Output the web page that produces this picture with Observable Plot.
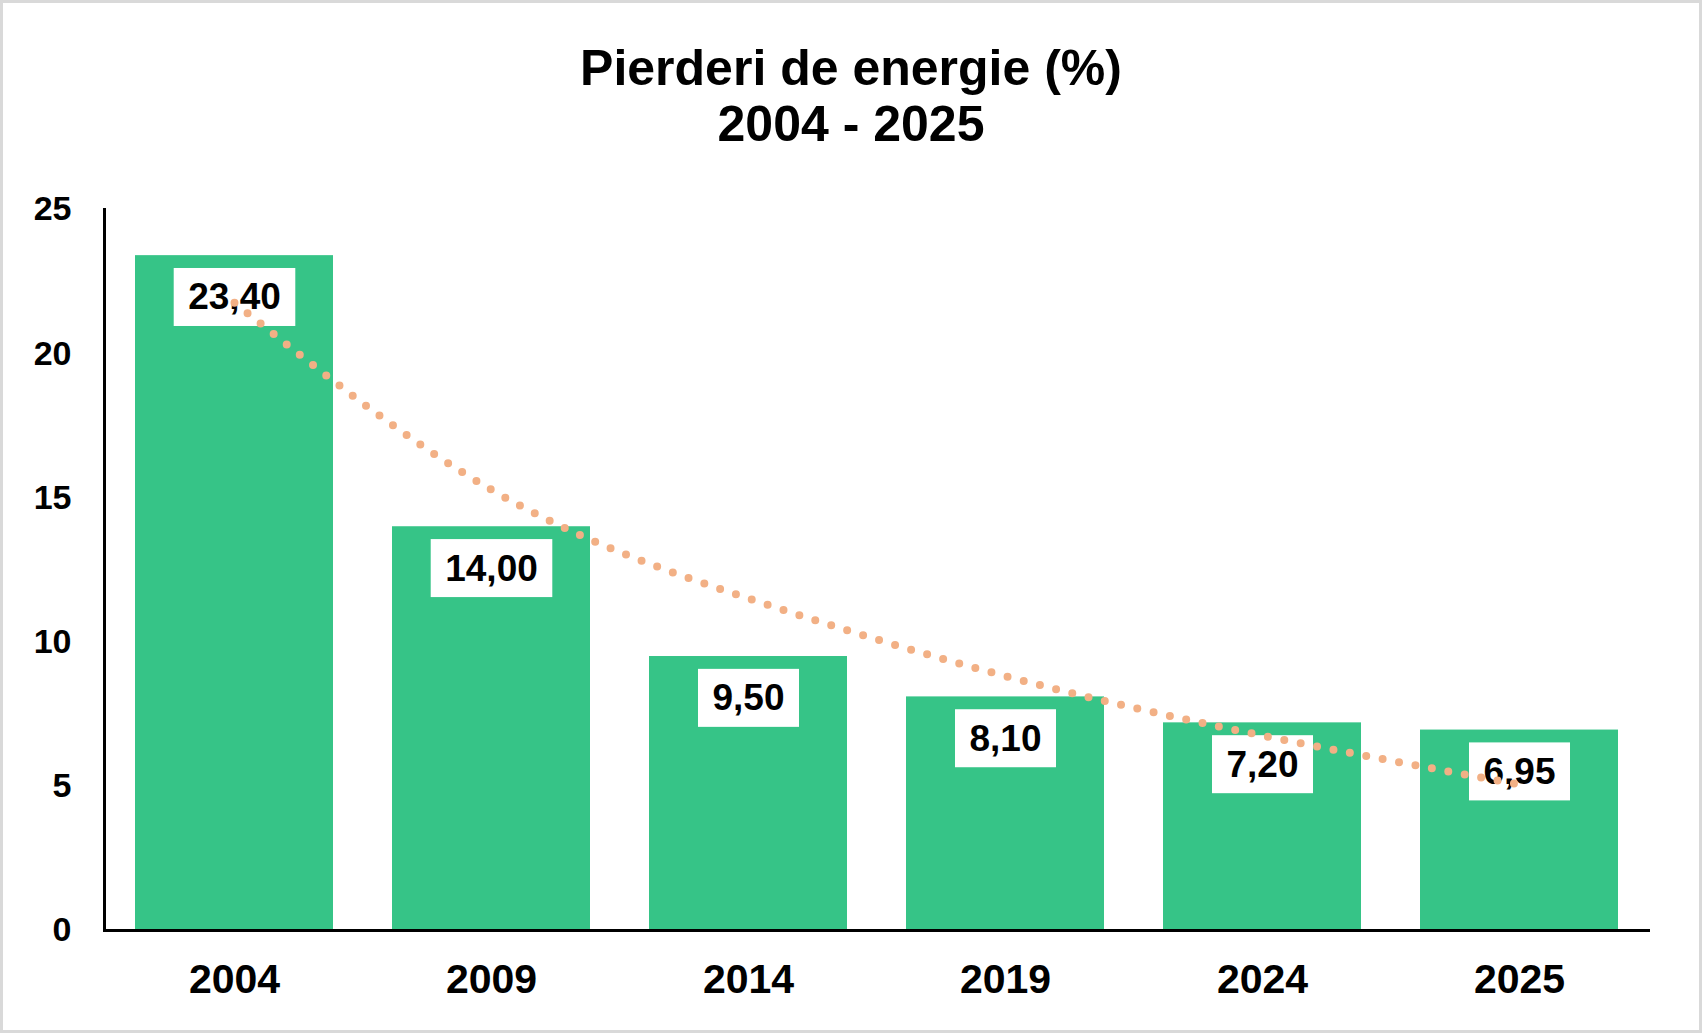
<!DOCTYPE html>
<html>
<head>
<meta charset="utf-8">
<script src="https://cdn.jsdelivr.net/npm/d3@7"></script>
<script src="https://cdn.jsdelivr.net/npm/@observablehq/plot@0.6"></script>
<style>
  html, body { margin: 0; padding: 0; background: #fff; overflow: hidden; }
  #chart { position: relative; width: 1702px; height: 1033px; background: #fff; font-family: "Liberation Sans", Arial, sans-serif; }
  #title { height: 160px; box-sizing: border-box; padding-top: 40px; text-align: center; font-weight: bold; font-size: 50px; line-height: 56px; color: #000; }
  #border { position: absolute; left: 0; top: 0; right: 0; bottom: 0; border: 3px solid #d9d9d9; pointer-events: none; }
</style>
</head>
<body>
<div id="chart">
  <div id="title"></div>
  <div id="plot"></div>
  <div id="border"></div>
</div>
<script>
const titleLines = ["Pierderi de energie (%)", "2004 - 2025"];
const years = ["2004", "2009", "2014", "2019", "2024", "2025"];
const losses = [23.4, 14.0, 9.5, 8.1, 7.2, 6.95];
const trendValues = [21.77, 15.28, 11.51, 8.82, 6.76, 5.06];
const yTicks = [0, 5, 10, 15, 20, 25];

const barColor = "#36C487";
const trendColor = "#F2B085";

document.getElementById("title").innerHTML = titleLines.join("<br>");

const data = years.map((year, i) => ({ year, value: losses[i], trend: trendValues[i] }));
const fmt = v => v.toFixed(2).replace(".", ",");

const chart = Plot.plot({
  width: 1702,
  height: 873,
  marginTop: 49,
  marginBottom: 103,
  marginLeft: 104,
  marginRight: 54,
  style: { fontFamily: "'Liberation Sans', Arial, sans-serif", fontWeight: "bold", color: "#000", background: "transparent", overflow: "visible" },
  x: { domain: years, paddingInner: 0.23, paddingOuter: 0.115, axis: null },
  y: { domain: [0, 25], axis: null },
  marks: [
    Plot.barY(data, { x: "year", y: "value", fill: barColor }),
    Plot.frame({ anchor: "left", stroke: "#000", strokeWidth: 3 }),
    Plot.frame({ anchor: "bottom", stroke: "#000", strokeWidth: 3 }),
    Plot.axisY({ ticks: yTicks, tickSize: 0, tickPadding: 33, fontSize: 34, fontWeight: "bold", label: null, tickFormat: d => String(d) }),
    Plot.axisX({ tickSize: 0, tickPadding: 33, fontSize: 41, fontWeight: "bold", label: null }),
    Plot.text(data, { x: "year", y: "value", text: d => fmt(d.value), dy: 42, fontSize: 37, fontWeight: "bold", fill: "#000" }),
    Plot.line(data, { x: "year", y: "trend", curve: "natural", stroke: trendColor, strokeWidth: 8, strokeDasharray: "0 16.7", strokeLinecap: "round" })
  ]
});

document.getElementById("plot").appendChild(chart);

// white boxes behind the value labels
const labelGroup = chart.querySelector('g[aria-label="text"]');
if (labelGroup) {
  labelGroup.querySelectorAll("text").forEach(t => {
    const bb = t.getBBox();
    const cy = bb.y + bb.height / 2;
    const r = document.createElementNS("http://www.w3.org/2000/svg", "rect");
    r.setAttribute("x", bb.x - 14.5);
    r.setAttribute("width", bb.width + 29);
    r.setAttribute("y", cy - 29);
    r.setAttribute("height", 58);
    r.setAttribute("fill", "#fff");
    r.setAttribute("stroke", "none");
    const tr = t.getAttribute("transform");
    if (tr) r.setAttribute("transform", tr);
    t.parentNode.insertBefore(r, t);
  });
}
</script>
</body>
</html>
